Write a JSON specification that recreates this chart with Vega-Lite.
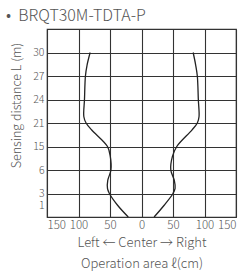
{
  "$schema": "https://vega.github.io/schema/vega-lite/v6.json",
  "autosize": "none",
  "width": 189,
  "height": 188,
  "padding": {"left": 47, "top": 29, "right": 12, "bottom": 62},
  "background": "white",
  "config": {
    "font": "Noto Sans CJK JP",
    "view": {"stroke": "#333333", "strokeWidth": 1.2},
    "axis": {"labelColor": "#555555", "titleColor": "#555555", "labelFontSize": 11.5, "labelFontWeight": 300, "titleFontSize": 13, "titleFontWeight": 300, "ticks": false, "domain": false, "gridColor": "#333333", "gridOpacity": 1, "gridWidth": 1.1, "labelOverlap": false}
  },
  "title": {
    "text": "•\u00a0\u00a0BRQT30M-TDTA-P",
    "anchor": "start",
    "frame": "group",
    "dx": -41,
    "offset": 5,
    "fontSize": 16,
    "fontWeight": 300,
    "color": "#555555"
  },
  "data": {
    "values": [
      {"side": "L", "dist": 0, "x": -21},
      {"side": "L", "dist": 1, "x": -38},
      {"side": "L", "dist": 3, "x": -51},
      {"side": "L", "dist": 3.65, "x": -54},
      {"side": "L", "dist": 4.7, "x": -53.5},
      {"side": "L", "dist": 6, "x": -48.5},
      {"side": "L", "dist": 11.1, "x": -49.5},
      {"side": "L", "dist": 15, "x": -54},
      {"side": "L", "dist": 19.2, "x": -79},
      {"side": "L", "dist": 21, "x": -88},
      {"side": "L", "dist": 21.8, "x": -91.5},
      {"side": "L", "dist": 24, "x": -90.5},
      {"side": "L", "dist": 27, "x": -89},
      {"side": "L", "dist": 28.4, "x": -86.4},
      {"side": "L", "dist": 30, "x": -81.5},
      {"side": "R", "dist": 0, "x": 20},
      {"side": "R", "dist": 1, "x": 36},
      {"side": "R", "dist": 3, "x": 50},
      {"side": "R", "dist": 3.65, "x": 53.3},
      {"side": "R", "dist": 4.7, "x": 52},
      {"side": "R", "dist": 6, "x": 46.5},
      {"side": "R", "dist": 11.1, "x": 49},
      {"side": "R", "dist": 15, "x": 56},
      {"side": "R", "dist": 19.2, "x": 80},
      {"side": "R", "dist": 21, "x": 88.6},
      {"side": "R", "dist": 21.8, "x": 91.3},
      {"side": "R", "dist": 24, "x": 90.2},
      {"side": "R", "dist": 27, "x": 88.6},
      {"side": "R", "dist": 28.4, "x": 86},
      {"side": "R", "dist": 30, "x": 82}
    ]
  },
  "mark": {"type": "line", "color": "#222222", "strokeWidth": 1.3, "interpolate": "catmull-rom"},
  "encoding": {
    "x": {
      "field": "x",
      "type": "quantitative",
      "scale": {"domain": [-150, 150], "nice": false, "zero": false},
      "axis": {
        "values": [-150, -100, -50, 0, 50, 100, 150],
        "labelExpr": "abs(datum.value)",
        "labelPadding": 2,
        "title": ["Left ← Center → Right", "Operation area ℓ(cm)"],
        "titlePadding": 6,
        "titleLineHeight": 21
      }
    },
    "y": {
      "field": "dist",
      "type": "quantitative",
      "scale": {
        "domain": [0, 1, 3, 6, 15, 21, 24, 27, 30, 33],
        "range": [188, 176.25, 164.5, 141, 117.5, 94, 70.5, 47, 23.5, 0],
        "nice": false,
        "zero": false
      },
      "axis": {
        "values": [1, 3, 6, 15, 21, 24, 27, 30],
        "labelPadding": 3,
        "labelFontSize": 10.5,
        "gridOpacity": {"condition": {"test": "datum.value == 1", "value": 0}, "value": 1},
        "title": "Sensing distance L (m)",
        "titleFontSize": 12.5,
        "titleAngle": -90,
        "titleAlign": "center",
        "titleBaseline": "alphabetic",
        "titleX": -27,
        "titleY": 76
      }
    },
    "detail": {"field": "side"},
    "order": {"field": "dist", "type": "quantitative"}
  }
}
